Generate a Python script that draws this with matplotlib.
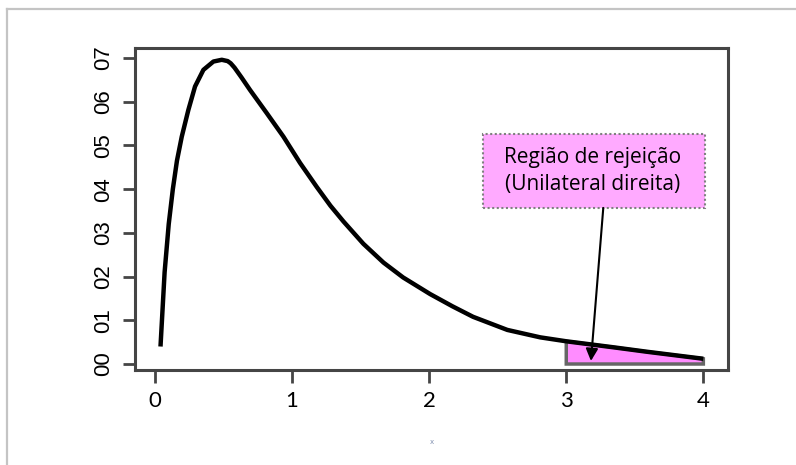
import numpy as np
import matplotlib.pyplot as plt
from matplotlib.patches import Rectangle
from matplotlib.lines import Line2D

# curve points
x_curve = [0.04, 0.07, 0.10, 0.13, 0.16, 0.195, 0.243, 0.292, 0.353, 0.426, 0.487, 0.53,
           0.552, 0.58, 0.63, 0.693, 0.815, 0.937, 1.058, 1.18, 1.28, 1.375, 1.52, 1.667,
           1.81, 2.007, 2.17, 2.32, 2.57, 2.81, 3.00, 3.10, 3.35, 3.59, 4.00]
y_curve = [0.04, 0.21, 0.32, 0.40, 0.465, 0.52, 0.581, 0.635, 0.673, 0.692, 0.696, 0.693,
           0.688, 0.678, 0.656, 0.627, 0.574, 0.520, 0.460, 0.405, 0.362, 0.326, 0.275, 0.232,
           0.198, 0.160, 0.132, 0.108, 0.078, 0.061, 0.052, 0.048, 0.038, 0.028, 0.012]

x_ticks = [0, 1, 2, 3, 4]
y_ticks = [0.0, 0.1, 0.2, 0.3, 0.4, 0.5, 0.6, 0.7]
y_ticklabels = ["00", "01", "02", "03", "04", "05", "06", "07"]

crit = 3.0
box_text = "Região de rejeição\n(Unilateral direita)"

spine_col = "#454545"

fig = plt.figure(figsize=(7.96, 4.65), dpi=100)
ax = fig.add_axes([0.1696, 0.2043, 0.745, 0.6925])

xc = np.array(x_curve)
yc = np.array(y_curve)

# rejection region (right tail)
m = xc >= crit
px = np.concatenate([[crit], xc[m], [xc[m][-1]]])
py = np.concatenate([[0], yc[m], [0]])
ax.fill(px, py, facecolor="#ff8cff", edgecolor="#666666", linewidth=2.5, zorder=2)

ax.plot(xc, yc, color="black", linewidth=3.2, solid_capstyle="butt",
        solid_joinstyle="round", zorder=3)

ax.set_xlim(-0.146, 4.18)
ax.set_ylim(-0.0137, 0.723)

ax.set_xticks(x_ticks)
ax.set_yticks(y_ticks)
ax.set_yticklabels(y_ticklabels, rotation=90, va="center",
                   fontfamily="Liberation Sans", fontsize=16)
ax.set_xticklabels([str(v) for v in x_ticks], fontfamily="Lato", fontsize=16)
ax.tick_params(length=9, width=2, color=spine_col, pad=6)
for s in ax.spines.values():
    s.set_linewidth(2.2)
    s.set_color(spine_col)

ax.set_xlabel("x", fontsize=5, color="#8090b0", labelpad=20)

# annotation box
bx0, bx1, by0, by1 = 2.394, 4.015, 0.357, 0.526
ax.add_patch(Rectangle((bx0, by0), bx1 - bx0, by1 - by0, facecolor="#ffaaff",
                       edgecolor="#808080", linestyle=(0, (1, 1.2)), linewidth=1.5, zorder=4))
ax.text((bx0 + bx1) / 2 - 0.01, (by0 + by1) / 2, box_text, ha="center", va="center",
        fontfamily="Open Sans", fontsize=15, linespacing=1.4, zorder=5)
ax.annotate("", xy=(3.18, 0.007), xytext=(3.27, by0),
            arrowprops=dict(arrowstyle="-|>", color="black", lw=1.5,
                            mutation_scale=18, shrinkA=0, shrinkB=0), zorder=5)

# outer frame (partially visible)
fig.add_artist(Line2D([7 / 796, 1], [1 - 9 / 465, 1 - 9 / 465], color="#c4c4c4", lw=1.6))
fig.add_artist(Line2D([7 / 796, 7 / 796], [0, 1 - 9 / 465], color="#c4c4c4", lw=1.6))

fig.savefig("out.png", dpi=100)
